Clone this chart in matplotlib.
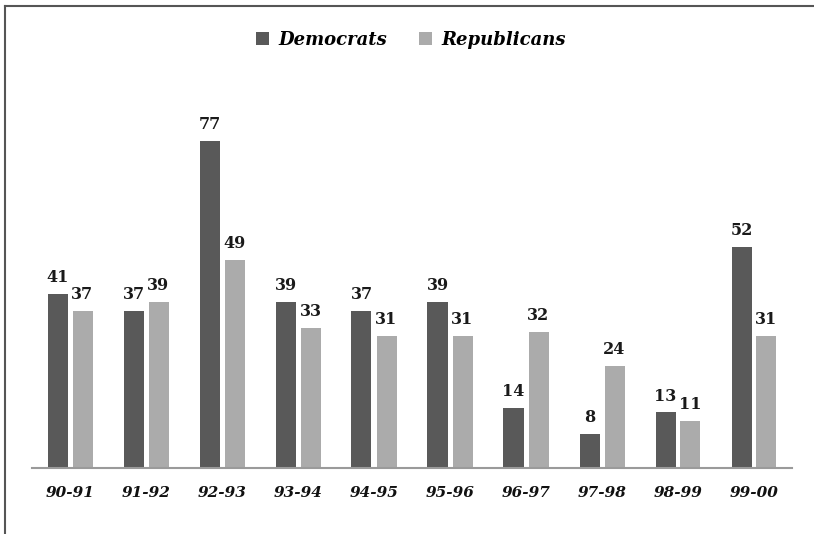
import matplotlib.pyplot as plt
import numpy as np

# Valores por periodo
periodos = ['90-91', '91-92', '92-93', '93-94', '94-95', '95-96', '96-97', '97-98', '98-99', '99-00']
democrats = [41, 37, 77, 39, 37, 39, 14, 8, 13, 52]
republicans = [37, 39, 49, 33, 31, 31, 32, 24, 11, 31]

color_dem = '#595959'
color_rep = '#ababab'
fuente = 'DejaVu Serif'

fig = plt.figure(figsize=(8.14, 5.34), dpi=100)
ax = fig.add_axes([32/814, 66.5/534, 760/814, 407.5/534])

x = np.arange(len(periodos))
ancho = 20/76
desp = 12.5/76

b1 = ax.bar(x - desp, democrats, ancho, color=color_dem, label='Democrats')
b2 = ax.bar(x + desp, republicans, ancho, color=color_rep, label='Republicans')

for barras in (b1, b2):
    for b in barras:
        ax.annotate(str(int(b.get_height())), (b.get_x() + b.get_width()/2, b.get_height()),
                    xytext=(0, 5.5), textcoords='offset points', ha='center', va='bottom',
                    fontsize=11.5, fontweight='bold', family=fuente, color='#1a1a1a')

ax.set_xlim(-0.5, len(periodos) - 0.5)
ax.set_ylim(0, 96.1)
ax.set_yticks([])
ax.set_xticks(x)
ax.set_xticklabels(periodos, fontsize=11, fontweight='bold', fontstyle='italic',
                   family=fuente, color='#111111')
ax.tick_params(axis='x', length=0, pad=13)
for lado in ('top', 'right', 'left'):
    ax.spines[lado].set_visible(False)
ax.spines['bottom'].set_color('#9a9a9a')
ax.spines['bottom'].set_linewidth(1.5)

leg = fig.legend(loc='center', bbox_to_anchor=(411/814, 1 - 40/534), ncol=2, frameon=False,
                 handlelength=0.7, handleheight=0.7, handletextpad=0.5, columnspacing=1.8,
                 prop={'family': fuente, 'weight': 'bold', 'style': 'italic', 'size': 13})

# marco de la figura
fig.add_artist(plt.Line2D([5/814, 5/814], [0, 1 - 6/534], color='#555555', lw=1.5,
                          transform=fig.transFigure))
fig.add_artist(plt.Line2D([5/814, 1], [1 - 6/534, 1 - 6/534], color='#555555', lw=1.5,
                          transform=fig.transFigure))

fig.savefig('out.png', dpi=100)
